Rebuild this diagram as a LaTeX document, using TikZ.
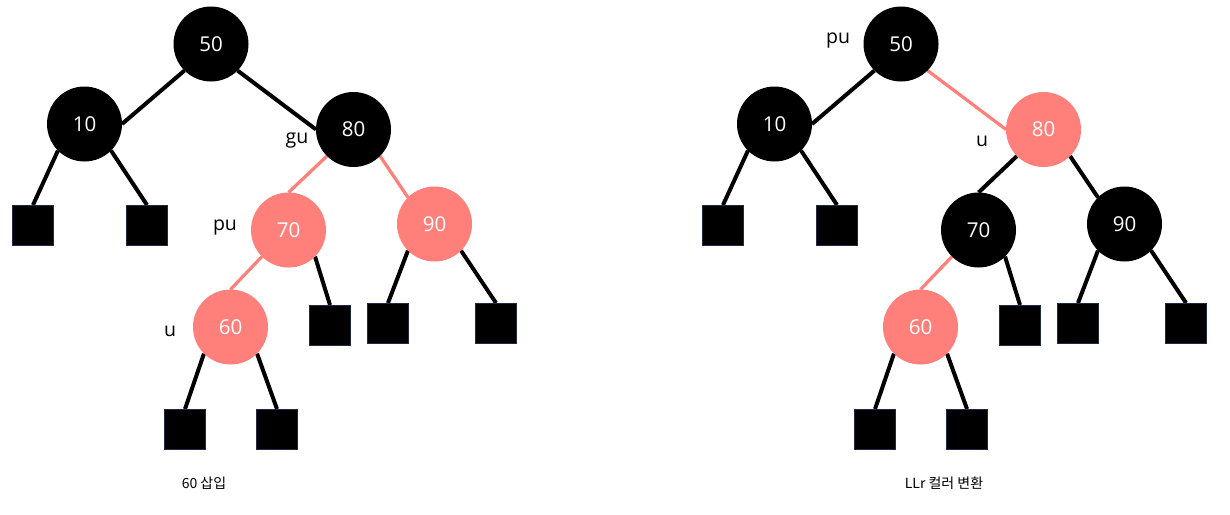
\documentclass[tikz,border=0pt]{standalone}
\usepackage{fontspec}
\setmainfont{Open Sans}
\newfontfamily\krfont{Noto Sans CJK KR}
\definecolor{rbred}{HTML}{FF7F7B}
\definecolor{leafline}{HTML}{1F2A44}
\pgfdeclarelayer{bg}
\pgfsetlayers{bg,main}
\begin{document}
\begin{tikzpicture}[x=1pt,y=-1pt,
  blacknode/.style={circle,fill=black,minimum size=75pt,inner sep=0pt,outer sep=0pt,
    text=white,font=\fontsize{20.5}{24}\selectfont},
  rednode/.style={blacknode,fill=rbred},
  leafbox/.style={rectangle,draw=leafline,line width=0.8pt,fill=black,
    minimum width=41pt,minimum height=40pt,inner sep=0pt,outer sep=0pt},
  tag/.style={font=\fontsize{19.5}{23}\selectfont,inner sep=0pt},
  caption/.style={font=\krfont\fontsize{14}{17}\selectfont,inner sep=0pt},
  blackedge/.style={draw=black,line width=4pt},
  rededge/.style={draw=rbred,line width=3.2pt}]
\useasboundingbox (0,0) rectangle (1230,514);

% ---------- left tree: after inserting 60 ----------
\node[blacknode] (a50) at (211,44) {50};
\node[blacknode] (a10) at (84.5,124) {10};
\node[blacknode] (a80) at (353.5,129.5) {80};
\node[rednode]   (a70) at (288.5,230) {70};
\node[rednode]   (a90) at (434.5,224) {90};
\node[rednode]   (a60) at (230.5,327) {60};
\node[leafbox] (al1) at (33,225) {};
\node[leafbox] (al2) at (147,225) {};
\node[leafbox] (al3) at (330,325) {};
\node[leafbox] (al4) at (388,323) {};
\node[leafbox] (al5) at (496,323) {};
\node[leafbox] (al6) at (185,429) {};
\node[leafbox] (al7) at (277,429) {};
\node[tag] (agu) at (297,141) {gu};
\node[tag] (apu) at (225,228) {pu};
\node[tag] (au)  at (170,331) {u};
\node[caption] (acap) at (204,483) {60 삽입};

\begin{pgfonlayer}{bg}
\draw[blackedge] (a50.south west) -- (a10.east);
\draw[blackedge] (a50.south east) -- (a80.west);
\draw[blackedge] (a10.south west) -- (al1.north);
\draw[blackedge] (a10.south east) -- (al2.north);
\draw[rededge]   (a80.south west) -- (a70.north);
\draw[rededge]   (a80.south east) -- (a90.north west);
\draw[rededge]   (a70.south west) -- (a60.north);
\draw[blackedge] (a70.south east) -- (al3.north);
\draw[blackedge] (a90.south west) -- (al4.north);
\draw[blackedge] (a90.south east) -- (al5.north);
\draw[blackedge] (a60.south west) -- (al6.north);
\draw[blackedge] (a60.south east) -- (al7.north);
\end{pgfonlayer}

% ---------- right tree: after the LLr colour flip ----------
\node[blacknode] (b50) at (901,44) {50};
\node[blacknode] (b10) at (774.5,124) {10};
\node[rednode]   (b80) at (1043.5,129.5) {80};
\node[blacknode] (b70) at (978.5,230) {70};
\node[blacknode] (b90) at (1124.5,224) {90};
\node[rednode]   (b60) at (920.5,327) {60};
\node[leafbox] (bl1) at (723,225) {};
\node[leafbox] (bl2) at (837,225) {};
\node[leafbox] (bl3) at (1020,325) {};
\node[leafbox] (bl4) at (1078,323) {};
\node[leafbox] (bl5) at (1186,323) {};
\node[leafbox] (bl6) at (875,429) {};
\node[leafbox] (bl7) at (967,429) {};
\node[tag] (bpu) at (838,41) {pu};
\node[tag] (bu)  at (982,141) {u};
\node[caption] (bcap) at (944,483) {LLr 컬러 변환};

\begin{pgfonlayer}{bg}
\draw[blackedge] (b50.south west) -- (b10.east);
\draw[rededge]   (b50.south east) -- (b80.west);
\draw[blackedge] (b10.south west) -- (bl1.north);
\draw[blackedge] (b10.south east) -- (bl2.north);
\draw[blackedge] (b80.south west) -- (b70.north);
\draw[blackedge] (b80.south east) -- (b90.north west);
\draw[rededge]   (b70.south west) -- (b60.north);
\draw[blackedge] (b70.south east) -- (bl3.north);
\draw[blackedge] (b90.south west) -- (bl4.north);
\draw[blackedge] (b90.south east) -- (bl5.north);
\draw[blackedge] (b60.south west) -- (bl6.north);
\draw[blackedge] (b60.south east) -- (bl7.north);
\end{pgfonlayer}
\end{tikzpicture}
\end{document}
